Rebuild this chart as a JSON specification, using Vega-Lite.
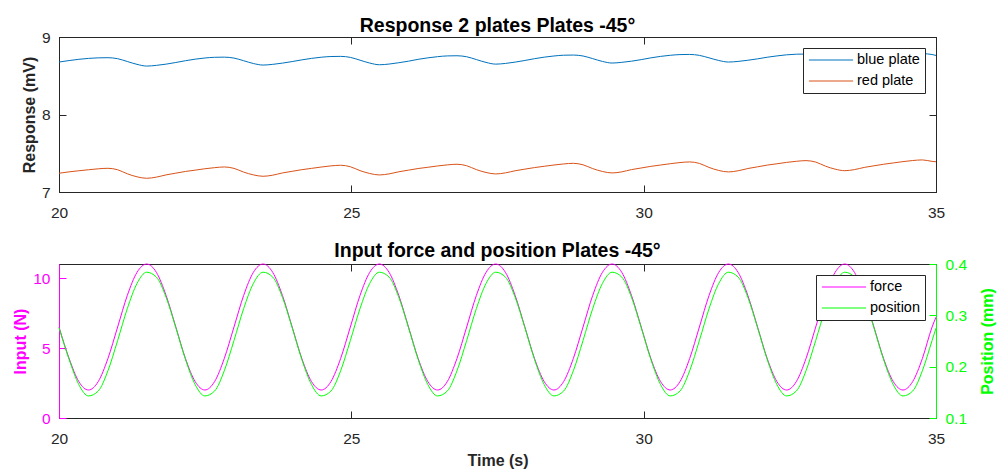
{
  "$schema": "https://vega.github.io/schema/vega-lite/v6.json",
  "background": "white",
  "padding": {"left": 12, "top": 15, "right": 2, "bottom": 2},
  "datasets": {
    "d": [
      {"t": 20.0, "blue": 8.677, "red": 7.242, "force": 6.5, "position": 0.276},
      {"t": 20.173, "blue": 8.696, "red": 7.26, "force": 4.25, "position": 0.214},
      {"t": 20.339, "blue": 8.712, "red": 7.274, "force": 2.6, "position": 0.165},
      {"t": 20.505, "blue": 8.724, "red": 7.287, "force": 2.0, "position": 0.143},
      {"t": 20.671, "blue": 8.731, "red": 7.299, "force": 2.6, "position": 0.1525},
      {"t": 20.837, "blue": 8.733, "red": 7.306, "force": 4.25, "position": 0.192},
      {"t": 21.003, "blue": 8.72, "red": 7.287, "force": 6.5, "position": 0.251},
      {"t": 21.168, "blue": 8.684, "red": 7.235, "force": 8.75, "position": 0.313},
      {"t": 21.334, "blue": 8.647, "red": 7.196, "force": 10.4, "position": 0.362},
      {"t": 21.5, "blue": 8.625, "red": 7.177, "force": 11.0, "position": 0.384},
      {"t": 21.666, "blue": 8.634, "red": 7.192, "force": 10.4, "position": 0.3745},
      {"t": 21.832, "blue": 8.65, "red": 7.221, "force": 8.75, "position": 0.335},
      {"t": 21.998, "blue": 8.671, "red": 7.243, "force": 6.5, "position": 0.276},
      {"t": 22.163, "blue": 8.694, "red": 7.265, "force": 4.25, "position": 0.214},
      {"t": 22.329, "blue": 8.714, "red": 7.282, "force": 2.6, "position": 0.165},
      {"t": 22.495, "blue": 8.729, "red": 7.3, "force": 2.0, "position": 0.143},
      {"t": 22.661, "blue": 8.738, "red": 7.314, "force": 2.6, "position": 0.1525},
      {"t": 22.827, "blue": 8.74, "red": 7.323, "force": 4.25, "position": 0.192},
      {"t": 22.993, "blue": 8.728, "red": 7.305, "force": 6.5, "position": 0.251},
      {"t": 23.158, "blue": 8.694, "red": 7.257, "force": 8.75, "position": 0.313},
      {"t": 23.324, "blue": 8.658, "red": 7.221, "force": 10.4, "position": 0.362},
      {"t": 23.49, "blue": 8.638, "red": 7.203, "force": 11.0, "position": 0.384},
      {"t": 23.656, "blue": 8.647, "red": 7.217, "force": 10.4, "position": 0.3745},
      {"t": 23.822, "blue": 8.663, "red": 7.246, "force": 8.75, "position": 0.335},
      {"t": 23.988, "blue": 8.683, "red": 7.267, "force": 6.5, "position": 0.276},
      {"t": 24.153, "blue": 8.705, "red": 7.288, "force": 4.25, "position": 0.214},
      {"t": 24.319, "blue": 8.724, "red": 7.305, "force": 2.6, "position": 0.165},
      {"t": 24.485, "blue": 8.739, "red": 7.322, "force": 2.0, "position": 0.143},
      {"t": 24.651, "blue": 8.748, "red": 7.337, "force": 2.6, "position": 0.1525},
      {"t": 24.817, "blue": 8.75, "red": 7.345, "force": 4.25, "position": 0.192},
      {"t": 24.983, "blue": 8.737, "red": 7.326, "force": 6.5, "position": 0.251},
      {"t": 25.148, "blue": 8.701, "red": 7.276, "force": 8.75, "position": 0.313},
      {"t": 25.314, "blue": 8.664, "red": 7.239, "force": 10.4, "position": 0.362},
      {"t": 25.48, "blue": 8.642, "red": 7.22, "force": 11.0, "position": 0.384},
      {"t": 25.646, "blue": 8.651, "red": 7.234, "force": 10.4, "position": 0.3745},
      {"t": 25.812, "blue": 8.668, "red": 7.261, "force": 8.75, "position": 0.335},
      {"t": 25.978, "blue": 8.688, "red": 7.282, "force": 6.5, "position": 0.276},
      {"t": 26.143, "blue": 8.712, "red": 7.303, "force": 4.25, "position": 0.214},
      {"t": 26.309, "blue": 8.731, "red": 7.319, "force": 2.6, "position": 0.165},
      {"t": 26.475, "blue": 8.746, "red": 7.336, "force": 2.0, "position": 0.143},
      {"t": 26.641, "blue": 8.756, "red": 7.35, "force": 2.6, "position": 0.1525},
      {"t": 26.807, "blue": 8.758, "red": 7.358, "force": 4.25, "position": 0.192},
      {"t": 26.973, "blue": 8.745, "red": 7.339, "force": 6.5, "position": 0.251},
      {"t": 27.138, "blue": 8.709, "red": 7.289, "force": 8.75, "position": 0.313},
      {"t": 27.304, "blue": 8.672, "red": 7.252, "force": 10.4, "position": 0.362},
      {"t": 27.47, "blue": 8.65, "red": 7.233, "force": 11.0, "position": 0.384},
      {"t": 27.636, "blue": 8.659, "red": 7.247, "force": 10.4, "position": 0.3745},
      {"t": 27.802, "blue": 8.676, "red": 7.274, "force": 8.75, "position": 0.335},
      {"t": 27.968, "blue": 8.697, "red": 7.295, "force": 6.5, "position": 0.276},
      {"t": 28.133, "blue": 8.72, "red": 7.315, "force": 4.25, "position": 0.214},
      {"t": 28.299, "blue": 8.74, "red": 7.332, "force": 2.6, "position": 0.165},
      {"t": 28.465, "blue": 8.755, "red": 7.348, "force": 2.0, "position": 0.143},
      {"t": 28.631, "blue": 8.765, "red": 7.362, "force": 2.6, "position": 0.1525},
      {"t": 28.797, "blue": 8.767, "red": 7.37, "force": 4.25, "position": 0.192},
      {"t": 28.963, "blue": 8.755, "red": 7.351, "force": 6.5, "position": 0.251},
      {"t": 29.128, "blue": 8.721, "red": 7.302, "force": 8.75, "position": 0.313},
      {"t": 29.294, "blue": 8.685, "red": 7.265, "force": 10.4, "position": 0.362},
      {"t": 29.46, "blue": 8.664, "red": 7.246, "force": 11.0, "position": 0.384},
      {"t": 29.626, "blue": 8.673, "red": 7.26, "force": 10.4, "position": 0.3745},
      {"t": 29.792, "blue": 8.688, "red": 7.289, "force": 8.75, "position": 0.335},
      {"t": 29.958, "blue": 8.708, "red": 7.31, "force": 6.5, "position": 0.276},
      {"t": 30.123, "blue": 8.731, "red": 7.331, "force": 4.25, "position": 0.214},
      {"t": 30.289, "blue": 8.75, "red": 7.348, "force": 2.6, "position": 0.165},
      {"t": 30.455, "blue": 8.764, "red": 7.365, "force": 2.0, "position": 0.143},
      {"t": 30.621, "blue": 8.773, "red": 7.38, "force": 2.6, "position": 0.1525},
      {"t": 30.787, "blue": 8.775, "red": 7.388, "force": 4.25, "position": 0.192},
      {"t": 30.953, "blue": 8.763, "red": 7.369, "force": 6.5, "position": 0.251},
      {"t": 31.118, "blue": 8.731, "red": 7.317, "force": 8.75, "position": 0.313},
      {"t": 31.284, "blue": 8.697, "red": 7.278, "force": 10.4, "position": 0.362},
      {"t": 31.45, "blue": 8.677, "red": 7.259, "force": 11.0, "position": 0.384},
      {"t": 31.616, "blue": 8.685, "red": 7.274, "force": 10.4, "position": 0.3745},
      {"t": 31.782, "blue": 8.7, "red": 7.303, "force": 8.75, "position": 0.335},
      {"t": 31.948, "blue": 8.718, "red": 7.325, "force": 6.5, "position": 0.276},
      {"t": 32.113, "blue": 8.739, "red": 7.347, "force": 4.25, "position": 0.214},
      {"t": 32.279, "blue": 8.756, "red": 7.364, "force": 2.6, "position": 0.165},
      {"t": 32.445, "blue": 8.77, "red": 7.382, "force": 2.0, "position": 0.143},
      {"t": 32.611, "blue": 8.778, "red": 7.396, "force": 2.6, "position": 0.1525},
      {"t": 32.777, "blue": 8.78, "red": 7.405, "force": 4.25, "position": 0.192},
      {"t": 32.943, "blue": 8.769, "red": 7.386, "force": 6.5, "position": 0.251},
      {"t": 33.108, "blue": 8.737, "red": 7.334, "force": 8.75, "position": 0.313},
      {"t": 33.274, "blue": 8.704, "red": 7.295, "force": 10.4, "position": 0.362},
      {"t": 33.44, "blue": 8.685, "red": 7.275, "force": 11.0, "position": 0.384},
      {"t": 33.606, "blue": 8.693, "red": 7.289, "force": 10.4, "position": 0.3745},
      {"t": 33.772, "blue": 8.707, "red": 7.317, "force": 8.75, "position": 0.335},
      {"t": 33.938, "blue": 8.725, "red": 7.338, "force": 6.5, "position": 0.276},
      {"t": 34.103, "blue": 8.745, "red": 7.358, "force": 4.25, "position": 0.214},
      {"t": 34.269, "blue": 8.762, "red": 7.375, "force": 2.6, "position": 0.165},
      {"t": 34.435, "blue": 8.775, "red": 7.392, "force": 2.0, "position": 0.143},
      {"t": 34.601, "blue": 8.783, "red": 7.406, "force": 2.6, "position": 0.1525},
      {"t": 34.767, "blue": 8.785, "red": 7.414, "force": 4.25, "position": 0.192},
      {"t": 34.933, "blue": 8.774, "red": 7.395, "force": 6.5, "position": 0.251},
      {"t": 35.0, "blue": 8.762, "red": 7.39, "force": 7.2, "position": 0.275}
    ]
  },
  "spacing": 72,
  "bounds": "flush",
  "resolve": {"scale": {"color": "independent"}},
  "vconcat": [
    {
      "width": 877,
      "height": 155,
      "data": {"name": "d"},
      "title": {"text": "Response 2 plates Plates -45°", "fontSize": 19.5, "fontWeight": "bold", "color": "#000000", "offset": -6},
      "transform": [{"fold": ["blue", "red"], "as": ["series", "value"]}],
      "layer": [
        {
          "mark": {"type": "line", "strokeWidth": 1, "interpolate": "monotone"},
          "encoding": {
            "x": {"field": "t", "type": "quantitative", "scale": {"domain": [20, 35], "nice": false},
                  "axis": {"title": null, "values": [20, 25, 30, 35], "orient": "bottom", "labelPadding": 20}},
            "y": {"field": "value", "type": "quantitative", "scale": {"domain": [7, 9], "nice": false, "zero": false},
                  "axis": {"title": "Response (mV)", "values": [7, 8, 9], "format": ".0f", "orient": "left"}},
            "color": {"field": "series", "type": "nominal",
                      "scale": {"domain": ["blue", "red"], "range": ["#0072BD", "#D95319"]},
                      "legend": {"title": null, "orient": "top-right", "labelExpr": "datum.label + ' plate'"}}
          }
        },
        {
          "mark": {"type": "line", "opacity": 0},
          "encoding": {
            "detail": {"field": "series"},
            "x": {"field": "t", "type": "quantitative", "scale": {"domain": [20, 35], "nice": false},
                  "axis": {"title": null, "values": [20, 25, 30, 35], "orient": "top", "labels": false, "labelPadding": 0}},
            "y": {"field": "value", "type": "quantitative", "scale": {"domain": [7, 9], "nice": false, "zero": false},
                  "axis": {"title": null, "values": [7, 8, 9], "orient": "right", "labels": false, "labelPadding": 0}}
          }
        }
      ],
      "resolve": {"axis": {"x": "independent", "y": "independent"}}
    },
    {
      "width": 877,
      "height": 154,
      "data": {"name": "d"},
      "title": {"text": "Input force and position Plates -45°", "fontSize": 19.5, "fontWeight": "bold", "color": "#000000", "offset": -4},
      "layer": [
        {
          "transform": [{"fold": ["force"], "as": ["series", "value"]}],
          "mark": {"type": "line", "strokeWidth": 1, "interpolate": "monotone"},
          "encoding": {
            "x": {"field": "t", "type": "quantitative", "scale": {"domain": [20, 35], "nice": false},
                  "axis": {"title": "Time (s)", "values": [20, 25, 30, 35], "orient": "bottom", "labelPadding": 20, "titlePadding": 6}},
            "y": {"field": "value", "type": "quantitative", "scale": {"domain": [0, 11], "nice": false},
                  "axis": {"title": "Input (N)", "values": [0, 5, 10], "orient": "left",
                           "domainColor": "#FF00FF", "tickColor": "#FF00FF", "labelColor": "#FF00FF", "titleColor": "#FF00FF"}},
            "color": {"field": "series", "type": "nominal",
                      "scale": {"domain": ["force", "position"], "range": ["#FF00FF", "#00FF00"]},
                      "legend": {"title": null, "orient": "top-right"}}
          }
        },
        {
          "transform": [{"fold": ["position"], "as": ["series", "value"]}],
          "mark": {"type": "line", "strokeWidth": 1, "interpolate": "monotone"},
          "encoding": {
            "x": {"field": "t", "type": "quantitative", "scale": {"domain": [20, 35], "nice": false},
                  "axis": {"title": null, "values": [20, 25, 30, 35], "orient": "top", "labels": false, "labelPadding": 0}},
            "y": {"field": "value", "type": "quantitative", "scale": {"domain": [0.1, 0.4], "nice": false, "zero": false},
                  "axis": {"title": "Position (mm)", "values": [0.1, 0.2, 0.3, 0.4], "format": ".1f", "orient": "right", "titleAngle": 270, "titleBaseline": "top", "titlePadding": 13,
                           "domainColor": "#00FF00", "tickColor": "#00FF00", "labelColor": "#00FF00", "titleColor": "#00FF00"}},
            "color": {"field": "series", "type": "nominal",
                      "scale": {"domain": ["force", "position"], "range": ["#FF00FF", "#00FF00"]},
                      "legend": {"title": null, "orient": "top-right"}}
          }
        }
      ],
      "resolve": {"scale": {"y": "independent"}, "axis": {"x": "independent"}}
    }
  ],
  "config": {
    "font": "Liberation Sans",
    "view": {"stroke": "#262626", "strokeWidth": 1},
    "axis": {
      "grid": false,
      "labelFont": "Liberation Sans",
      "labelFontSize": 15.5,
      "titleFont": "Liberation Sans",
      "titleFontSize": 16,
      "titleFontWeight": "bold",
      "domainColor": "#262626",
      "tickColor": "#262626",
      "labelColor": "#262626",
      "titleColor": "#262626",
      "tickSize": -7,
      "labelPadding": 16,
      "labelFlush": false,
      "labelOverlap": false
    },
    "legend": {
      "symbolType": "stroke",
      "symbolSize": 1950,
      "symbolStrokeWidth": 1,
      "clipHeight": 14,
      "labelFont": "Liberation Sans",
      "labelFontSize": 14.5,
      "labelColor": "#000000",
      "strokeColor": "#262626",
      "fillColor": "white",
      "padding": 5,
      "offset": 11,
      "rowPadding": 6,
      "labelOffset": 3
    }
  }
}
